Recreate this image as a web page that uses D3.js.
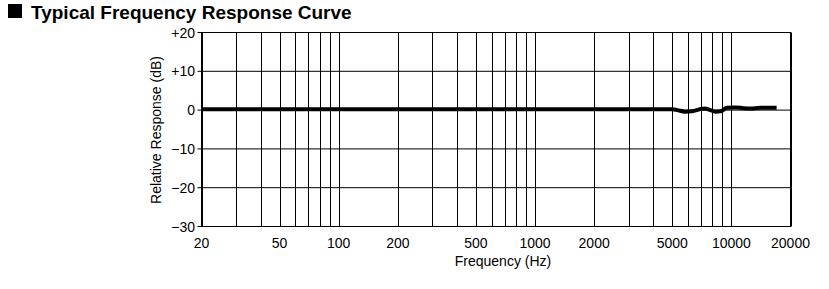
<!DOCTYPE html>
<html><head><meta charset="utf-8">
<script src="https://cdn.jsdelivr.net/npm/d3@7"></script>
<style>body{margin:0;background:#fff}svg{display:block}</style>
</head><body>
<script>
const freqTicks = [20, 50, 100, 200, 500, 1000, 2000, 5000, 10000, 20000];
const freqTickLabels = ["20","50","100","200","500","1000","2000","5000","10000","20000"];
const dbTicks = [20, 10, 0, -10, -20, -30];
const dbTickLabels = ["+20","+10","0","\u221210","\u221220","\u221230"];
const gridFreqs = [20,30,40,50,60,70,80,90,100,200,300,400,500,600,700,800,900,1000,2000,3000,4000,5000,6000,7000,8000,9000,10000,20000];
const curveFreq = [20, 100, 1000, 5000, 5300, 5800, 6300, 7000, 7300, 7800, 8300, 8800, 9500, 10500, 11500, 12500, 14000, 17000];
const curveDb   = [0.2, 0.2, 0.2, 0.2, 0.0, -0.4, -0.3, 0.3, 0.4, 0.0, -0.4, -0.3, 0.6, 0.7, 0.5, 0.4, 0.6, 0.6];

const W = 829, H = 289;
const svg = d3.select("body").append("svg").attr("width", W).attr("height", H);
const x = d3.scaleLog().domain([20, 20000]).range([201.5, 790.5]);
const y = d3.scaleLinear().domain([-30, 20]).range([226.5, 32.5]);
const font = "'Liberation Sans', Arial, Helvetica, sans-serif";

// Title
svg.append("rect").attr("x", 8).attr("y", 4).attr("width", 14).attr("height", 14).attr("fill", "#000");
svg.append("text").attr("x", 31).attr("y", 19).attr("font-family", font).attr("font-weight", "bold")
  .attr("font-size", 19).attr("fill", "#000").text("Typical Frequency Response Curve");

const g = svg.append("g");
// vertical grid
g.selectAll("line.v").data(gridFreqs).enter().append("line")
  .attr("x1", d => Math.round(x(d)) + 0.5).attr("x2", d => Math.round(x(d)) + 0.5)
  .attr("y1", y(20)).attr("y2", y(-30)).attr("stroke", "#000").attr("stroke-width", 1);
// horizontal grid
g.selectAll("line.h").data(dbTicks).enter().append("line")
  .attr("x1", x(20) - 4).attr("x2", x(20000)).attr("y1", d => y(d)).attr("y2", d => y(d))
  .attr("stroke", "#000").attr("stroke-width", 1);
// border
g.append("rect").attr("x", x(20)).attr("y", y(20)).attr("width", x(20000) - x(20)).attr("height", y(-30) - y(20))
  .attr("fill", "none").attr("stroke", "#000").attr("stroke-width", 1);

// y labels
g.selectAll("text.yl").data(dbTicks).enter().append("text")
  .attr("x", 195).attr("y", d => y(d) + 5).attr("text-anchor", "end")
  .attr("font-family", font).attr("font-size", 14).attr("fill", "#000")
  .text((d, i) => dbTickLabels[i]);
// x labels
g.selectAll("text.xl").data(freqTicks).enter().append("text")
  .attr("x", d => x(d)).attr("y", 248).attr("text-anchor", "middle")
  .attr("font-family", font).attr("font-size", 14).attr("fill", "#000")
  .text((d, i) => freqTickLabels[i]);

// axis titles
svg.append("text").attr("x", 503).attr("y", 266).attr("text-anchor", "middle")
  .attr("font-family", font).attr("font-size", 14).attr("fill", "#000").text("Frequency (Hz)");
svg.append("text").attr("transform", "translate(161,130) rotate(-90)").attr("text-anchor", "middle")
  .attr("font-family", font).attr("font-size", 14).attr("fill", "#000").text("Relative Response (dB)");

// curve
const pts = curveFreq.map((f, i) => [f, curveDb[i]]);
const line = d3.line().x(d => x(d[0])).y(d => y(d[1])).curve(d3.curveMonotoneX);
svg.append("path").attr("d", line(pts)).attr("fill", "none").attr("stroke", "#000")
  .attr("stroke-width", 4).attr("stroke-linejoin", "round");
</script>
</body></html>
